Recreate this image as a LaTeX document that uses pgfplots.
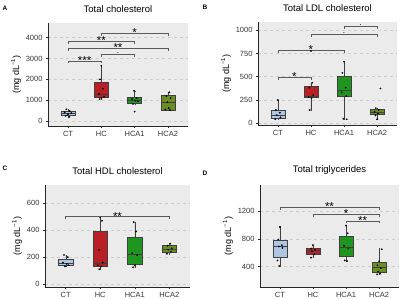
\documentclass[border=0pt]{standalone}
\usepackage{pgfplots}
\pgfplotsset{compat=1.18}
\usepgfplotslibrary{statistics}
\usepackage{fontspec}
\setmainfont{Liberation Sans}
\definecolor{cCT}{HTML}{AFC6E3}
\definecolor{cHC}{HTML}{B82025}
\definecolor{cA1}{HTML}{1E951E}
\definecolor{cA2}{HTML}{6B8E23}
\definecolor{bgc}{HTML}{EBEBEB}
\definecolor{brk}{HTML}{5A5A5A}
\tikzset{sig/.style={font=\fontsize{11.5}{11.5}\selectfont, anchor=base, yshift=-3.3pt, inner sep=0pt},
         dot/.style={font=\fontsize{8}{8}\selectfont, anchor=base, yshift=0.8pt, inner sep=0pt}}
\pgfplotsset{
  panel/.style={
    scale only axis,
    axis background/.style={fill=bgc},
    axis x line*=bottom, axis y line*=left,
    axis line style={-, black!85, line width=0.6pt},
    xmin=0.4, xmax=4.6,
    xtick={1,2,3,4}, xticklabels={CT,HC,HCA1,HCA2},
    tick align=outside, major tick length=2pt,
    tick style={black!85, line width=0.5pt},
    ymajorgrids, major grid style={dashed, gray!40, line width=0.5pt},
    tick label style={font=\fontsize{7.5}{8}\selectfont, text=black!80},
    /pgf/number format/assume math mode=true,
    /pgf/number format/1000 sep={},
    ylabel={(mg dL\textsuperscript{−1})},
    ylabel style={font=\fontsize{9}{10}\selectfont, yshift=-2pt},
    title style={font=\fontsize{9.5}{11}\selectfont, at={(0.5,1)}, anchor=south, yshift=0.5pt},
    boxplot/draw direction=y,
    boxplot/box extend=0.42,
    boxplot/whisker extend=0.001,
  },
  bx/.style={draw=black!75, line width=0.4pt},
  pts/.style={only marks, mark=*, mark size=0.65pt, black},
  br/.style={brk, line width=0.6pt, sharp plot},
}
\begin{document}
\begin{tikzpicture}
\useasboundingbox (0pt,0pt) rectangle (400pt,299pt);
\node[font=\bfseries\fontsize{6.5}{7}\selectfont] at (5pt,291pt) {A};
\node[font=\bfseries\fontsize{6.5}{7}\selectfont] at (205pt,292pt) {B};
\node[font=\bfseries\fontsize{6.5}{7}\selectfont] at (5pt,131pt) {C};
\node[font=\bfseries\fontsize{6.5}{7}\selectfont] at (205pt,126pt) {D};

% ---------- A ----------
\begin{axis}[panel, at={(48pt,173pt)}, anchor=south west, width=140pt, height=103pt,
  ymin=-240, ymax=4707, ytick={0,1000,2000,3000,4000}, title={Total cholesterol}]
\addplot[bx, fill=cCT, boxplot prepared={lower whisker=200, lower quartile=300, median=385, upper quartile=470, upper whisker=560, draw position=1}] coordinates {};
\addplot[bx, fill=cHC, boxplot prepared={lower whisker=1050, lower quartile=1120, median=1280, upper quartile=1860, upper whisker=2650, draw position=2}] coordinates {};
\addplot[bx, fill=cA1, boxplot prepared={lower whisker=820, lower quartile=860, median=1000, upper quartile=1130, upper whisker=1450, draw position=3}] coordinates {};
\addplot[bx, fill=cA2, boxplot prepared={lower whisker=520, lower quartile=530, median=920, upper quartile=1235, upper whisker=1380, draw position=4}] coordinates {};
\addplot[pts] coordinates {(0.95,560)(1.05,480)(0.9,420)(1.1,380)(1.0,330)(0.93,250)(1.04,200)
 (2.0,2650)(1.96,2000)(2.05,1550)(1.93,1300)(2.08,1150)(2.0,1100)(1.95,1050)
 (2.98,1450)(3.06,1100)(2.92,1050)(3.02,980)(3.1,950)(2.95,820)(3.0,450)
 (4.04,1380)(3.95,1200)(4.08,1100)(3.98,900)(4.02,620)(3.92,550)(4.06,520)};
\addplot[br] coordinates {(1,2765)(1,2885)(2,2885)(2,2765)};
\addplot[br] coordinates {(2,3087)(2,3207)(3,3207)(3,3087)};
\addplot[br] coordinates {(1,3375)(1,3495)(4,3495)(4,3375)};
\addplot[br] coordinates {(1,3692)(1,3812)(3,3812)(3,3692)};
\addplot[br] coordinates {(2,4096)(2,4216)(4,4216)(4,4096)};
\node[sig] at (axis cs:1.5,2885) {***};
\node[dot] at (axis cs:2.5,3207) {.};
\node[sig] at (axis cs:2.5,3495) {**};
\node[sig] at (axis cs:2.0,3812) {**};
\node[sig] at (axis cs:3.0,4216) {*};
\end{axis}

% ---------- B ----------
\begin{axis}[panel, at={(258pt,174pt)}, anchor=south west, width=139pt, height=103pt,
  ymin=-22, ymax=1089, ytick={0,250,500,750,1000}, title={Total LDL cholesterol}]
\addplot[bx, fill=cCT, boxplot prepared={lower whisker=40, lower quartile=55, median=86, upper quartile=140, upper whisker=248, draw position=1}] coordinates {};
\addplot[bx, fill=cHC, boxplot prepared={lower whisker=140, lower quartile=273, median=290, upper quartile=399, upper whisker=434, draw position=2}] coordinates {};
\addplot[bx, fill=cA1, boxplot prepared={lower whisker=45, lower quartile=291, median=348, upper quartile=500, upper whisker=661, draw position=3}] coordinates {};
\addplot[bx, fill=cA2, boxplot prepared={lower whisker=40, lower quartile=90, median=118, upper quartile=150, upper whisker=160, draw position=4}] coordinates {};
\addplot[pts] coordinates {(1.0,248)(0.94,140)(1.06,110)(0.97,85)(1.08,60)(0.92,40)
 (2.0,777)(2.04,434)(1.95,380)(2.07,300)(1.93,280)(2.02,270)(1.96,140)
 (3.0,661)(2.95,540)(3.05,380)(2.93,330)(3.07,290)(2.98,45)(3.08,40)
 (4.1,372)(3.96,160)(4.05,140)(3.92,120)(4.02,100)(3.95,80)(4.0,40)};
\addplot[br] coordinates {(1,463)(1,492)(2,492)(2,463)};
\addplot[br] coordinates {(1,758)(1,787)(3,787)(3,758)};
\addplot[br] coordinates {(2,930)(2,959)(4,959)(4,930)};
\addplot[br] coordinates {(3,1016)(3,1045)(4,1045)(4,1016)};
\node[sig] at (axis cs:1.5,492) {*};
\node[sig] at (axis cs:2.0,787) {*};
\node[dot] at (axis cs:3.0,959) {.};
\node[dot] at (axis cs:3.5,1045) {.};
\end{axis}

% ---------- C ----------
\begin{axis}[panel, at={(45pt,12pt)}, anchor=south west, width=145pt, height=102pt,
  ymin=-22, ymax=736, ytick={0,200,400,600}, title={Total HDL cholesterol}]
\addplot[bx, fill=cCT, boxplot prepared={lower whisker=129, lower quartile=139, median=154, upper quartile=184, upper whisker=216, draw position=1}] coordinates {};
\addplot[bx, fill=cHC, boxplot prepared={lower whisker=109, lower quartile=129, median=154, upper quartile=396, upper whisker=493, draw position=2}] coordinates {};
\addplot[bx, fill=cA1, boxplot prepared={lower whisker=124, lower quartile=149, median=221, upper quartile=347, upper whisker=463, draw position=3}] coordinates {};
\addplot[bx, fill=cA2, boxplot prepared={lower whisker=223, lower quartile=238, median=260, upper quartile=288, upper whisker=302, draw position=4}] coordinates {};
\addplot[pts] coordinates {(0.95,216)(1.06,200)(0.92,160)(1.03,150)(1.08,140)(0.98,130)
 (2.0,493)(2.05,470)(1.96,253)(2.07,160)(1.93,140)(2.02,130)(1.97,110)
 (2.97,460)(3.04,390)(2.93,230)(3.07,215)(3.0,140)(2.95,125)
 (4.03,300)(3.95,285)(4.07,265)(3.97,255)(4.05,240)(3.93,225)};
\addplot[br] coordinates {(1,481)(1,500)(4,500)(4,481)};
\node[sig] at (axis cs:2.5,500) {**};
\end{axis}

% ---------- D ----------
\begin{axis}[panel, at={(260pt,12pt)}, anchor=south west, width=139pt, height=102pt,
  ymin=108, ymax=1574, ytick={400,800,1200}, title={Total triglycerides}]
\addplot[bx, fill=cCT, boxplot prepared={lower whisker=410, lower quartile=535, median=698, upper quartile=784, upper whisker=976, draw position=1}] coordinates {};
\addplot[bx, fill=cHC, boxplot prepared={lower whisker=530, lower quartile=578, median=630, upper quartile=665, upper whisker=712, draw position=2}] coordinates {};
\addplot[bx, fill=cA1, boxplot prepared={lower whisker=482, lower quartile=544, median=673, upper quartile=842, upper whisker=1000, draw position=3}] coordinates {};
\addplot[bx, fill=cA2, boxplot prepared={lower whisker=290, lower quartile=324, median=391, upper quartile=468, upper whisker=659, draw position=4}] coordinates {};
\addplot[pts] coordinates {(1.0,970)(0.95,790)(1.06,710)(0.97,690)(1.08,670)(0.93,490)(0.98,410)
 (2.0,710)(1.95,660)(2.06,640)(1.97,620)(2.04,580)(1.94,530)
 (3.0,990)(3.05,880)(2.94,700)(3.07,660)(2.96,490)(3.03,480)
 (4.08,650)(4.0,480)(3.95,420)(4.05,380)(3.97,330)(4.03,300)(3.94,290)};
\addplot[br] coordinates {(1,1219)(1,1255)(4,1255)(4,1219)};
\addplot[br] coordinates {(2,1118)(2,1154)(4,1154)(4,1118)};
\addplot[br] coordinates {(3,1022)(3,1058)(4,1058)(4,1022)};
\node[sig] at (axis cs:2.5,1255) {**};
\node[sig] at (axis cs:3.0,1154) {*};
\node[sig] at (axis cs:3.5,1058) {**};
\end{axis}
\end{tikzpicture}
\end{document}
